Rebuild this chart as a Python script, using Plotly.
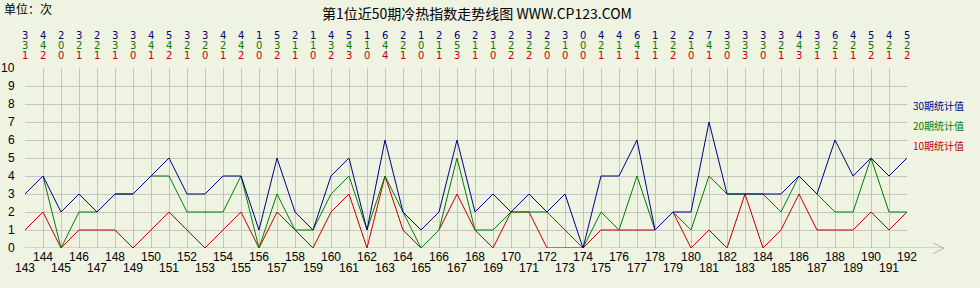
import plotly.graph_objects as go

periods = list(range(143, 193))
s30 = [3,4,2,3,2,3,3,4,5,3,3,4,4,1,5,2,1,4,5,1,6,2,1,2,6,2,3,2,3,2,3,0,4,4,6,1,2,2,7,3,3,3,3,4,3,6,4,5,4,5]
s20 = [3,4,0,2,2,3,3,4,4,2,2,2,4,0,3,1,1,3,4,1,4,2,0,1,5,1,1,2,2,2,1,0,2,1,4,1,2,1,4,3,3,3,2,4,3,2,2,5,2,2]
s10 = [1,2,0,1,1,1,0,1,2,1,0,1,2,0,2,1,0,2,3,0,4,1,0,1,3,1,0,2,2,0,0,0,1,1,1,1,2,0,1,0,3,0,1,3,1,1,1,2,1,2]
series_names = ["30期统计值", "20期统计值", "10期统计值"]
colors = ["#000080", "#008000", "#C00000"]
title_text = "第1位近50期冷热指数走势线图 WWW.CP123.COM"
unit_text = "单位：次"
y_ticks = list(range(0, 11))

W, H = 980, 288
L, R, T, B = 25, 73, 68, 40
plot_w = W - L - R
plot_h = H - T - B

def py(pix):
    return (H - B - pix) / plot_h

def px(pix):
    return (pix - L) / plot_w

fig = go.Figure()
data = [s30, s20, s10]
for idx in [2, 1, 0]:
    fig.add_trace(go.Scatter(x=periods, y=data[idx], mode="lines",
                             line=dict(color=colors[idx], width=1),
                             name=series_names[idx], showlegend=False,
                             hoverinfo="skip"))

annotations = []
# top numeric rows
row_y = [35, 45, 55]
for r in range(3):
    for p, v in zip(periods, data[r]):
        annotations.append(dict(x=p, y=py(row_y[r]), xref="x", yref="paper",
                                text=str(v), showarrow=False, height=10, borderpad=0,
                                font=dict(family="DejaVu Sans", size=10, color=colors[r]),
                                xanchor="center", yanchor="middle"))
# x tick labels in two rows
for i, p in enumerate(periods):
    yy = 267.5 if i % 2 == 0 else 256.5
    annotations.append(dict(x=p, y=py(yy), xref="x", yref="paper", text=str(p),
                            showarrow=False, height=11, borderpad=0,
                            font=dict(family="Liberation Sans", size=12, color="#000"),
                            xanchor="center", yanchor="middle"))
# y tick labels
for v in y_ticks:
    annotations.append(dict(x=px(16), y=v, xref="paper", yref="y", text=str(v),
                            showarrow=False, borderpad=0, height=12,
                            font=dict(family="Liberation Sans", size=12, color="#000"),
                            xanchor="right", yanchor="middle"))
# legend texts
leg_y = [105, 125, 145]
for r in range(3):
    annotations.append(dict(x=px(911), y=py(leg_y[r]), xref="paper", yref="paper",
                            text=series_names[r], showarrow=False,
                            font=dict(family="Noto Sans CJK SC", size=10, color=colors[r]),
                            xanchor="left", yanchor="middle"))
# title
annotations.append(dict(x=px(477), y=py(13), xref="paper", yref="paper", text=title_text,
                        showarrow=False, font=dict(family="Noto Sans CJK SC", size=14, color="#000"),
                        xanchor="center", yanchor="middle"))
annotations.append(dict(x=px(2), y=py(8), xref="paper", yref="paper", text=unit_text,
                        showarrow=False, font=dict(family="Noto Sans CJK SC", size=12, color="#000"),
                        xanchor="left", yanchor="middle"))

shapes = [
    dict(type="line", xref="paper", yref="y", x0=0, x1=px(944), y0=0, y1=0,
         line=dict(color="#B4B4B4", width=1), layer="below"),
    dict(type="line", xref="paper", yref="paper", x0=px(933), x1=px(944), y0=py(243), y1=py(248.3),
         line=dict(color="#B4B4B4", width=1)),
    dict(type="line", xref="paper", yref="paper", x0=px(933), x1=px(944), y0=py(253.6), y1=py(248.3),
         line=dict(color="#B4B4B4", width=1)),
]

fig.update_layout(
    width=W, height=H,
    margin=dict(l=L, r=R, t=T, b=B),
    paper_bgcolor="#EEF3E2", plot_bgcolor="#EEF3E2",
    showlegend=False,
    xaxis=dict(range=[143, 192], dtick=1, tick0=143, showgrid=True, gridcolor="#C4C4C4",
               gridwidth=1, showticklabels=False, zeroline=False, showline=False,
               fixedrange=True),
    yaxis=dict(range=[0, 10], dtick=1, showgrid=True, gridcolor="#C4C4C4", gridwidth=1,
               showticklabels=False, zeroline=False, showline=False, fixedrange=True),
    annotations=annotations,
    shapes=shapes,
)

fig.write_html("out.html")
